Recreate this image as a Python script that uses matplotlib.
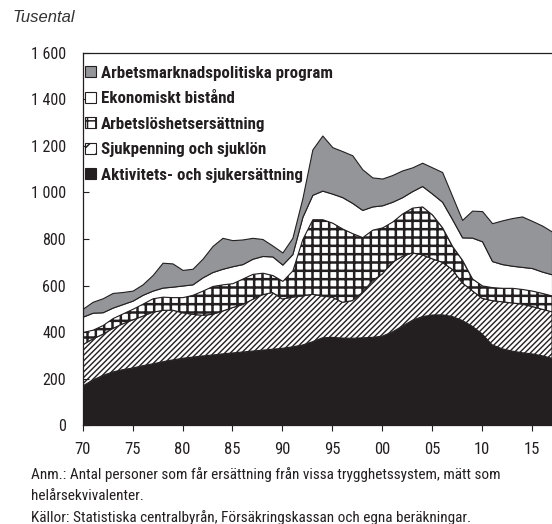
import numpy as np
import matplotlib
matplotlib.use("Agg")
import matplotlib.pyplot as plt
from matplotlib.patches import Patch
from matplotlib.ticker import FuncFormatter, MultipleLocator
from matplotlib import font_manager

years = np.arange(1970, 2018)

# tusental helårsekvivalenter, nedifrån och upp
aktivitet = [168, 193, 213, 228, 238, 245, 255, 263, 272, 280, 287, 292, 297, 301, 306, 310,
             314, 318, 322, 326, 330, 336, 344, 358, 375, 377, 374, 373, 375, 377, 382, 400,
             425, 450, 466, 473, 474, 467, 450, 425, 392, 345, 328, 318, 311, 306, 298, 287]
sjuk = [177, 177, 177, 187, 197, 207, 213, 222, 221, 214, 196, 184, 175, 175, 184, 195,
        204, 222, 238, 244, 212, 214, 211, 204, 180, 173, 154, 162, 195, 243, 268, 300,
        300, 290, 266, 242, 226, 203, 162, 153, 153, 190, 202, 207, 209, 204, 200, 200]
arbetsloshet = [55, 40, 40, 45, 45, 48, 54, 60, 59, 56, 67, 84, 106, 122, 115, 105,
                112, 110, 95, 75, 78, 115, 245, 323, 330, 320, 317, 290, 238, 220, 200, 175,
                185, 195, 208, 190, 150, 100, 98, 52, 55, 58, 60, 65, 65, 68, 70, 70]
bistand = [66, 73, 55, 45, 40, 35, 38, 33, 39, 45, 50, 45, 57, 60, 67, 73,
           62, 65, 72, 80, 70, 70, 95, 105, 123, 125, 135, 130, 117, 100, 95, 85,
           70, 71, 88, 90, 110, 115, 97, 176, 190, 112, 102, 95, 95, 97, 92, 91]
program = [34, 47, 60, 63, 52, 43, 45, 67, 107, 100, 67, 67, 80, 112, 133, 112,
           106, 90, 73, 47, 52, 70, 80, 195, 237, 200, 198, 205, 175, 125, 115, 115,
           115, 102, 100, 113, 128, 100, 75, 116, 130, 163, 188, 205, 217, 203, 198, 184]

labels = ["Aktivitets- och sjukersättning", "Sjukpenning och sjuklön",
          "Arbetslöshetsersättning", "Ekonomiskt bistånd",
          "Arbetsmarknadspolitiska program"]
xtick_years = np.arange(1970, 2016, 5)

# condensed font if there is one
names = {f.name for f in font_manager.fontManager.ttflist}
cond = "DejaVu Sans"
for n in ["Liberation Sans Narrow", "Roboto Condensed", "Open Sans Condensed", "DejaVu Sans Condensed"]:
    if n in names:
        cond = n
        break

plt.rcParams["font.family"] = [cond, "DejaVu Sans"]
plt.rcParams["hatch.linewidth"] = 1.1
ink = "#231f20"
fills = [ink, "white", "white", "white", "#939598"]
hatches = [None, "//////", "++", None, None]
hatch_lw = [None, 1.0, 1.8, None, None]

fig = plt.figure(figsize=(5.52, 5.24), dpi=100)
ax = fig.add_axes([0.1498, 0.1889, 0.8502, 0.71])

polys = ax.stackplot(years, aktivitet, sjuk, arbetsloshet, bistand, program,
                     colors=fills, edgecolor=ink, linewidth=0.8)
for p, h, lw in zip(polys, hatches, hatch_lw):
    if h:
        p.set_hatch(h)
        if hasattr(p, "set_hatch_linewidth"):
            p.set_hatch_linewidth(lw)

ax.set_xlim(1970, 2017)
ax.set_ylim(0, 1600)
ax.set_xticks(xtick_years)
ax.set_xticklabels([str(y)[2:] for y in xtick_years])
ax.yaxis.set_major_locator(MultipleLocator(200))
ax.yaxis.set_major_formatter(FuncFormatter(lambda v, p: f"{int(v):,}".replace(",", " ")))
ax.tick_params(axis="y", direction="in", length=4, width=0.8, pad=12, labelsize=11.5, colors=ink)
ax.tick_params(axis="x", direction="out", length=4, width=0.8, pad=8.5, labelsize=12, colors=ink)
ax.spines["right"].set_visible(False)
for s in ["left", "top", "bottom"]:
    ax.spines[s].set_linewidth(0.9)
    ax.spines[s].set_color(ink)

handles = [Patch(facecolor=c, edgecolor=ink, hatch=(h[:2] if h else None), linewidth=0.8)
           for c, h in zip(fills, hatches)][::-1]
leg = ax.legend(handles, labels[::-1], loc="upper left", bbox_to_anchor=(0.004, 0.966),
                frameon=False, borderpad=0, borderaxespad=0, handlelength=0.65,
                handleheight=0.65, handletextpad=0.3, labelspacing=0.62,
                prop={"family": [cond, "DejaVu Sans"], "weight": "bold", "size": 12.2})
for t in leg.get_texts():
    t.set_color(ink)

fig.text(12 / 552, 1 - 17 / 524, "Tusental", style="italic", fontsize=12, color="#333333",
         family=["Liberation Sans", "DejaVu Sans"], va="center", ha="left")

notes = ["Anm.: Antal personer som får ersättning från vissa trygghetssystem, mätt som",
         "helårsekvivalenter.",
         "Källor: Statistiska centralbyrån, Försäkringskassan och egna beräkningar."]
for i, s in enumerate(notes):
    fig.text(31 / 552, 1 - (475 + 21.5 * i) / 524, s, fontsize=11, color=ink, va="center", ha="left")

fig.savefig("out.png", dpi=100)
